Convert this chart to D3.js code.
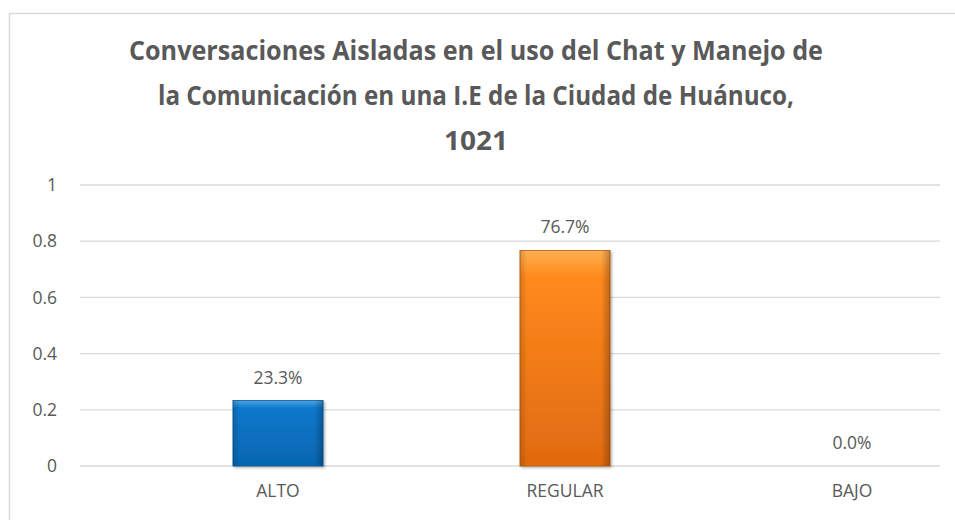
<!DOCTYPE html>
<html>
<head>
<meta charset="utf-8">
<script src="https://cdn.jsdelivr.net/npm/d3@7"></script>
<style>
  body { margin: 0; background: #fff; }
  svg text { font-family: "Open Sans", "Noto Sans", sans-serif; fill: #595959; }
</style>
</head>
<body>
<svg id="chart" width="955" height="520"></svg>
<script>
// chart data
var categories = ["ALTO", "REGULAR", "BAJO"];
var values = [0.233, 0.767, 0.0];
var yTicks = [0, 0.2, 0.4, 0.6, 0.8, 1];
var titleLines = [
  "Conversaciones Aisladas en el uso del Chat y Manejo de",
  "la Comunicación en una I.E de la Ciudad de Huánuco,",
  "1021"
];
var barColors = ["blue", "orange"];

var svg = d3.select("#chart");
var defs = svg.append("defs");

// gradients for the bevelled look
function grad(id, c1, c2, c3) {
  var g = defs.append("linearGradient").attr("id", id)
      .attr("x1", 0).attr("y1", 0).attr("x2", 0).attr("y2", 1);
  g.append("stop").attr("offset", "0%").attr("stop-color", c1);
  g.append("stop").attr("offset", "12%").attr("stop-color", c2);
  g.append("stop").attr("offset", "100%").attr("stop-color", c3);
}
grad("blue", "#4aa3e6", "#0a78cc", "#0666b0");
grad("orange", "#ffb050", "#ff8a1e", "#e06a10");

// dark side edges
var side = defs.append("linearGradient").attr("id", "side")
    .attr("x1", 0).attr("y1", 0).attr("x2", 1).attr("y2", 0);
side.append("stop").attr("offset", "0%").attr("stop-color", "#000").attr("stop-opacity", 0.15);
side.append("stop").attr("offset", "8%").attr("stop-color", "#000").attr("stop-opacity", 0);
side.append("stop").attr("offset", "90%").attr("stop-color", "#000").attr("stop-opacity", 0);
side.append("stop").attr("offset", "100%").attr("stop-color", "#000").attr("stop-opacity", 0.25);

var sh = defs.append("filter").attr("id", "shadow")
    .attr("x", "-10%").attr("y", "-10%").attr("width", "130%").attr("height", "130%");
sh.append("feDropShadow").attr("dx", 1.5).attr("dy", 1.5).attr("stdDeviation", 1.2)
    .attr("flood-color", "#000").attr("flood-opacity", 0.3);

// outer chart border (cropped on right / bottom)
svg.append("path")
    .attr("d", "M9.5,540 L9.5,13.5 L960,13.5")
    .attr("fill", "none").attr("stroke", "#d9d9d9").attr("stroke-width", 1.5);

// title
svg.append("g").selectAll("text").data(titleLines).enter().append("text")
    .attr("x", 476)
    .attr("y", function (d, i) { return 60 + i * 45; })
    .attr("text-anchor", "middle")
    .style("font-size", "26.5px")
    .style("font-weight", "bold")
    .attr("textLength", function (d, i) { return [694, 636, 64][i]; })
    .attr("lengthAdjust", "spacingAndGlyphs")
    .text(function (d) { return d; });

var y = d3.scaleLinear().domain([0, 1]).range([466, 185]);
var x = d3.scaleBand().domain(categories).range([134.5, 995.5])
    .paddingInner(0.686).paddingOuter(0.343);

// gridlines
svg.append("g").selectAll("line").data(yTicks).enter().append("line")
    .attr("x1", 80).attr("x2", 940)
    .attr("y1", function (d) { return y(d); })
    .attr("y2", function (d) { return y(d); })
    .attr("stroke", "#d9d9d9").attr("stroke-width", 1.3);

// y axis labels
var yAxis = d3.axisLeft(y).tickValues(yTicks).tickSize(0).tickPadding(0)
    .tickFormat(function (d) { return d3.format("")(d); });
var gy = svg.append("g").attr("transform", "translate(57,0)").call(yAxis);
gy.select(".domain").remove();
gy.selectAll("text").style("font-size", "17.5px").attr("fill", "#595959");

// x axis labels
var xAxis = d3.axisBottom(x).tickSize(0).tickPadding(0);
var gx = svg.append("g").attr("transform", "translate(0,485)").call(xAxis);
gx.select(".domain").remove();
gx.selectAll("text").style("font-size", "17.5px").attr("fill", "#595959");

// bars
var bars = svg.append("g").selectAll("g").data(values).enter().append("g")
    .filter(function (d) { return d > 0; });
bars.append("rect")
    .attr("x", function (d) { return x(categories[values.indexOf(d)]); })
    .attr("y", function (d) { return y(d); })
    .attr("width", x.bandwidth())
    .attr("height", function (d) { return y(0) - y(d); })
    .attr("fill", function (d) { return "url(#" + barColors[values.indexOf(d)] + ")"; })
    .attr("stroke", function (d) { return values.indexOf(d) === 0 ? "#0a5a96" : "#b95a10"; })
    .attr("stroke-width", 0.8)
    .attr("filter", "url(#shadow)");
bars.append("rect")
    .attr("x", function (d) { return x(categories[values.indexOf(d)]); })
    .attr("y", function (d) { return y(d); })
    .attr("width", x.bandwidth())
    .attr("height", function (d) { return y(0) - y(d); })
    .attr("fill", "url(#side)");

// data labels
svg.append("g").selectAll("text").data(values).enter().append("text")
    .attr("x", function (d, i) { return x(categories[i]) + x.bandwidth() / 2; })
    .attr("y", function (d) { return y(d) - 17; })
    .attr("text-anchor", "middle")
    .style("font-size", "17.5px")
    .text(function (d) { return d3.format(".1%")(d); });
</script>
</body>
</html>
